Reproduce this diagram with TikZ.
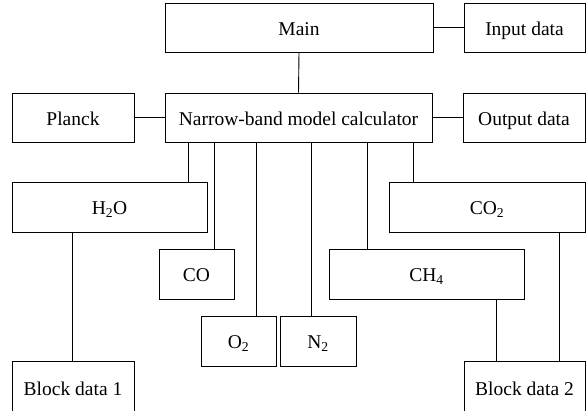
\documentclass[tikz,border=0pt]{standalone}
\usepackage{fontspec}
\setmainfont{Liberation Serif}
\begin{document}
\begin{tikzpicture}[x=1pt,y=-1pt,
  box/.style={draw,line width=0.8pt,inner sep=0pt,text height=15pt,text depth=0pt,font=\fontsize{19.5}{22}\selectfont},
  link/.style={line width=0.9pt}]
\useasboundingbox (0,0) rectangle (588,410);
\clip (0,0) rectangle (588,410);
\node[box,minimum width=268,minimum height=49] (Main) at (299,27.5) {Main};
\node[box,minimum width=121,minimum height=49] (Input) at (524.5,27.5) {Input data};
\node[box,minimum width=267,minimum height=49] (Narrow) at (298.5,117.5) {Narrow-band model calculator};
\node[box,minimum width=122,minimum height=49] (Planck) at (73,117.5) {Planck};
\node[box,minimum width=122,minimum height=49] (Output) at (524,117.5) {Output data};
\node[box,minimum width=195,minimum height=50] (H2O) at (109.5,207) {H\textsubscript{2}O};
\node[box,minimum width=75,minimum height=50] (CO) at (196.5,274) {CO};
\node[box,minimum width=75,minimum height=50] (O2) at (238.5,341) {O\textsubscript{2}};
\node[box,minimum width=76,minimum height=50] (N2) at (318,341) {N\textsubscript{2}};
\node[box,minimum width=196,minimum height=50] (CO2) at (487,207) {CO\textsubscript{2}};
\node[box,minimum width=195,minimum height=50] (CH4) at (426.5,274) {CH\textsubscript{4}};
\node[box,minimum width=122,minimum height=54] (B1) at (73,388) {Block data 1};
\node[box,minimum width=121,minimum height=54] (B2) at (524.5,388) {Block data 2};
\coordinate (xa) at (188,0);
\coordinate (xb) at (214,0);
\coordinate (xc) at (256,0);
\coordinate (xd) at (311,0);
\coordinate (xe) at (367,0);
\coordinate (xf) at (413,0);
\coordinate (xg) at (72,0);
\coordinate (xh) at (496,0);
\coordinate (xi) at (559,0);
\draw[link] (Main.east) -- (Input.west);
\draw[link] (Main.south) -- (Narrow.north);
\draw[link] (Planck.east) -- (Narrow.west);
\draw[link] (Narrow.east) -- (Output.west);
\draw[link] (Narrow.south -| xa) -- (H2O.north -| xa);
\draw[link] (Narrow.south -| xb) -- (CO.north -| xb);
\draw[link] (Narrow.south -| xc) -- (O2.north -| xc);
\draw[link] (Narrow.south -| xd) -- (N2.north -| xd);
\draw[link] (Narrow.south -| xe) -- (CH4.north -| xe);
\draw[link] (Narrow.south -| xf) -- (CO2.north -| xf);
\draw[link] (H2O.south -| xg) -- (B1.north -| xg);
\draw[link] (CH4.south -| xh) -- (B2.north -| xh);
\draw[link] (CO2.south -| xi) -- (B2.north -| xi);
\end{tikzpicture}
\end{document}
